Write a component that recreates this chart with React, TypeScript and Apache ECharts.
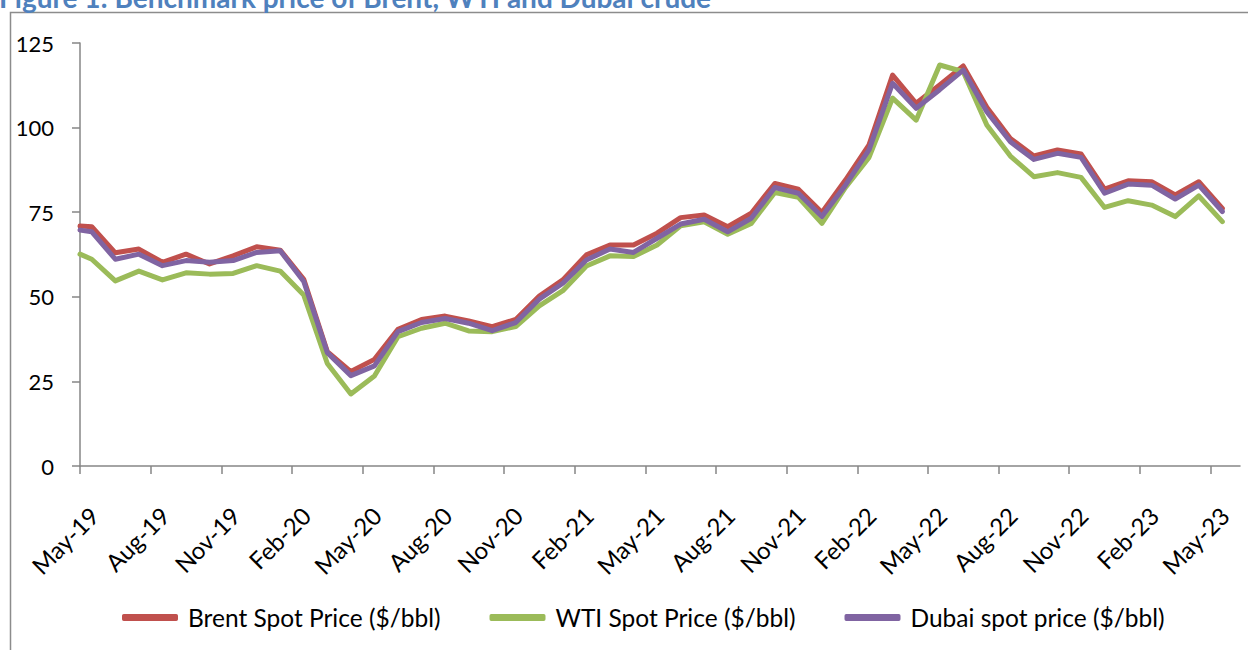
import React, { useEffect, useRef } from 'react';
import * as echarts from 'echarts';

const tickLabels = [
  'May-19', 'Aug-19', 'Nov-19', 'Feb-20', 'May-20', 'Aug-20', 'Nov-20', 'Feb-21', 'May-21',
  'Aug-21', 'Nov-21', 'Feb-22', 'May-22', 'Aug-22', 'Nov-22', 'Feb-23', 'May-23',
];

const months = [
  'May-19', 'Jun-19', 'Jul-19', 'Aug-19', 'Sep-19', 'Oct-19', 'Nov-19', 'Dec-19',
  'Jan-20', 'Feb-20', 'Mar-20', 'Apr-20', 'May-20', 'Jun-20', 'Jul-20', 'Aug-20', 'Sep-20', 'Oct-20', 'Nov-20', 'Dec-20',
  'Jan-21', 'Feb-21', 'Mar-21', 'Apr-21', 'May-21', 'Jun-21', 'Jul-21', 'Aug-21', 'Sep-21', 'Oct-21', 'Nov-21', 'Dec-21',
  'Jan-22', 'Feb-22', 'Mar-22', 'Apr-22', 'May-22', 'Jun-22', 'Jul-22', 'Aug-22', 'Sep-22', 'Oct-22', 'Nov-22', 'Dec-22',
  'Jan-23', 'Feb-23', 'Mar-23', 'Apr-23', 'May-23',
];

// opening value plotted at the start of the axis
const brentOpen = 70.9;
const wtiOpen = 62.6;
const dubaiOpen = 69.7;

const brent = [
  70.7, 63.0, 64.1, 60.2, 62.6, 59.7, 62.1, 64.8,
  63.8, 55.2, 33.8, 27.9, 31.5, 40.4, 43.3, 44.3, 42.9, 41.2, 43.3, 50.2,
  55.0, 62.4, 65.3, 65.3, 68.8, 73.4, 74.2, 70.7, 74.7, 83.5, 81.8, 74.9,
  84.5, 94.9, 115.5, 107.2, 112.6, 118.2, 106.0, 96.8, 91.6, 93.4, 92.2, 81.8,
  84.3, 84.0, 80.1, 84.0, 76.1,
];

const wti = [
  61.1, 54.7, 57.6, 55.0, 57.1, 56.7, 56.9, 59.2,
  57.6, 50.5, 30.3, 21.3, 26.6, 38.2, 40.7, 42.2, 39.9, 39.7, 41.2, 47.3,
  51.8, 59.1, 62.1, 61.9, 65.3, 71.0, 72.2, 68.5, 71.7, 80.8, 79.4, 71.7,
  82.3, 91.2, 108.7, 102.2, 118.5, 116.5, 100.8, 91.6, 85.5, 86.7, 85.3, 76.4,
  78.4, 77.1, 73.7, 79.8, 72.2,
];

const dubai = [
  69.2, 61.1, 62.6, 59.2, 60.7, 60.2, 60.7, 63.1,
  63.6, 54.5, 33.5, 26.7, 29.6, 39.7, 42.4, 43.6, 42.2, 40.0, 42.4, 49.3,
  54.0, 60.9, 64.1, 63.1, 67.3, 71.5, 72.9, 69.2, 73.2, 82.3, 80.6, 73.7,
  83.0, 93.4, 113.1, 105.7, 111.2, 117.0, 104.7, 95.8, 90.6, 92.4, 91.2, 80.6,
  83.3, 83.0, 78.9, 83.0, 75.2,
];

const seriesNames = ['Brent Spot Price ($/bbl)', 'WTI Spot Price ($/bbl)', 'Dubai spot price ($/bbl)'];
const colors = ['#C0504D', '#9BBB59', '#8064A2'];
const title = 'Figure 1: Benchmark price of Brent, WTI and Dubai crude';

function toPoints(open: number, vals: number[]) {
  // first value at the axis start, monthly values plotted at mid-month
  return [[0, open], ...vals.map((v, i) => [i + 0.5, v])];
}

export default function App() {
  const ref = useRef<HTMLDivElement>(null);

  useEffect(() => {
    if (!ref.current) return;
    const chart = echarts.init(ref.current, undefined, { renderer: 'svg' });
    const tickValues = tickLabels.map((_, k) => k * 3);
    const axisColor = '#868686';
    const font = 'Lato';

    const data = [toPoints(brentOpen, brent), toPoints(wtiOpen, wti), toPoints(dubaiOpen, dubai)];

    chart.setOption({
      animation: false,
      backgroundColor: '#ffffff',
      textStyle: { fontFamily: font },
      graphic: [
        {
          type: 'rect',
          z: -10,
          shape: { x: 10.5, y: 12.5, width: 1400, height: 800 },
          style: { fill: 'none', stroke: '#8c8c8c', lineWidth: 1.5 },
          silent: true,
        },
        {
          type: 'text',
          x: -1,
          y: -3,
          style: {
            text: title,
            fill: '#4F81BD',
            fontSize: 28,
            fontWeight: 'bold',
            fontFamily: font,
            verticalAlign: 'middle',
            align: 'left',
          },
          silent: true,
        },
      ],
      grid: { left: 80, right: 8, top: 43, bottom: 184 },
      xAxis: {
        type: 'value',
        min: 0,
        max: 49.25,
        splitLine: { show: false },
        axisLine: { show: true, lineStyle: { color: axisColor, width: 1.5 } },
        axisTick: {
          show: true,
          length: 8,
          customValues: tickValues,
          lineStyle: { color: axisColor, width: 1.5 },
        },
        axisLabel: {
          customValues: tickValues,
          formatter: (v: number) => tickLabels[Math.round(v / 3)] ?? '',
          rotate: 45,
          fontSize: 24,
          fontFamily: font,
          color: '#000',
          margin: 14,
          align: 'right',
          verticalAlign: 'top',
          padding: [20, 12, 0, 0],
        },
      },
      yAxis: {
        type: 'value',
        min: 0,
        max: 125,
        interval: 25,
        splitLine: { show: false },
        axisLine: { show: true, lineStyle: { color: axisColor, width: 1.5 } },
        axisTick: { show: true, length: 8, lineStyle: { color: axisColor, width: 1.5 } },
        axisLabel: { fontSize: 22, fontFamily: font, color: '#000', margin: 26 },
      },
      legend: {
        left: 117,
        top: 600,
        orient: 'horizontal',
        itemWidth: 56,
        itemHeight: 7,
        itemGap: 49,
        icon: 'roundRect',
        textStyle: { fontSize: 24.5, fontFamily: font, color: '#000', padding: [0, 0, 0, 5] },
        data: seriesNames,
      },
      series: seriesNames.map((name, i) => ({
        name,
        type: 'line',
        data: data[i],
        showSymbol: false,
        symbol: 'none',
        color: colors[i],
        lineStyle: { color: colors[i], width: 5, cap: 'round', join: 'round' },
        itemStyle: { color: colors[i] },
      })),
    });

    return () => chart.dispose();
  }, []);

  return (
    <div
      ref={ref}
      style={{ position: 'absolute', left: 0, top: 0, width: 1248, height: 650, background: '#fff' }}
    />
  );
}
